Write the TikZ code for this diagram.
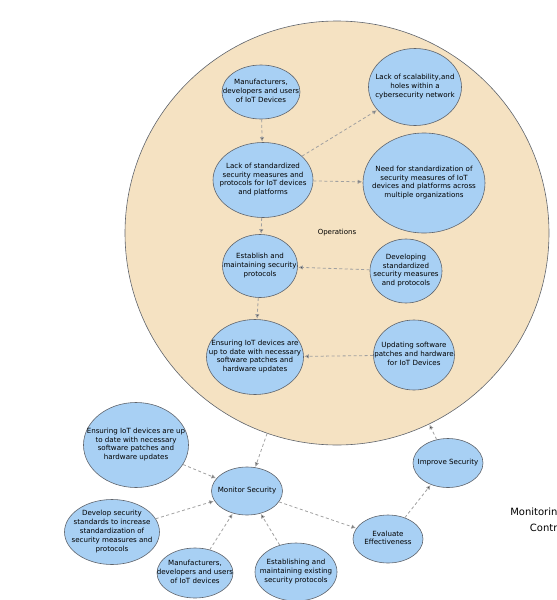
\documentclass[tikz,border=0pt]{standalone}
\usepackage{fontspec}
\setmainfont{DejaVu Sans}
\usetikzlibrary{shapes.geometric,arrows.meta}
\definecolor{opsfill}{RGB}{245,226,194}
\definecolor{bubblefill}{RGB}{168,208,244}
\definecolor{rimgray}{RGB}{95,100,108}
\definecolor{flowgray}{RGB}{160,160,160}
% text may run over the rim, as in the drawing
\newcommand{\bubtext}[1]{\smash{\makebox[0pt]{\raisebox{-1.5pt}{\begin{tabular}{@{}c@{}}#1\end{tabular}}}}}
\tikzset{
  bubble/.style={ellipse,draw=rimgray,line width=0.6pt,fill=bubblefill,inner sep=0pt,
    font=\fontsize{7.1}{8.9}\selectfont},
  flow/.style={draw=flowgray,line width=0.8pt,dash pattern=on 3pt off 2.5pt,
    -{Latex[length=4.5pt,width=4.5pt]},shorten >=0.5pt}
}
\begin{document}
\begin{tikzpicture}
        [x=1pt,y=-1pt]
        \useasboundingbox (0,0) rectangle (557,600);
        % Operations
        \node[circle,draw=rimgray,line width=0.6pt,fill=opsfill,minimum size=424pt,inner sep=0pt,
              font=\fontsize{7}{8.9}\selectfont]  (OPS) at (337,233) {Operations};
        
        \node[bubble,minimum width=78pt,minimum height=54pt]   (M1) at (261,92)   {\bubtext{Manufacturers,\\developers and users\\of IoT Devices}};
        \node[bubble,minimum width=93pt,minimum height=77pt]   (S1) at (415,87)   {\bubtext{Lack of scalability,and\\holes within a\\cybersecurity network}};
        \node[bubble,minimum width=100pt,minimum height=75pt]  (L1) at (263,180)  {\bubtext{Lack of standardized\\security measures and\\protocols for IoT devices\\and platforms}};
        \node[bubble,minimum width=122pt,minimum height=100pt] (N1) at (424,183)  {\bubtext{Need for standardization of\\security measures of IoT\\devices and platforms across\\multiple organizations}};
        \node[bubble,minimum width=75pt,minimum height=63pt]   (E1) at (260,266)  {\bubtext{Establish and\\maintaining security\\protocols}};
        \node[bubble,minimum width=72pt,minimum height=64pt]   (D1) at (406,271)  {\bubtext{Developing\\standardized\\security measures\\and protocols}};
        \node[bubble,minimum width=97pt,minimum height=75pt]   (U1) at (255,357)  {\bubtext{Ensuring IoT devices are\\up to date with necessary\\software patches and\\hardware updates}};
        \node[bubble,minimum width=81pt,minimum height=70pt]   (P1) at (414,355)  {\bubtext{Updating software\\patches and hardware\\for IoT Devices}};
        
        % Monitoring
        \node[bubble,minimum width=105pt,minimum height=85pt]  (U2) at (136,445)  {\bubtext{Ensuring IoT devices are up\\to date with necessary\\software patches and\\hardware updates}};
        \node[bubble,minimum width=71pt,minimum height=48pt]   (MS) at (247,491)  {\bubtext{Monitor Security}};
        \node[bubble,minimum width=95pt,minimum height=65pt]   (D2) at (112,532)  {\bubtext{Develop security\\standards to increase\\standardization of\\security measures and\\protocols}};
        \node[bubble,minimum width=76pt,minimum height=50pt]   (M2) at (195,573)  {\bubtext{Manufacturers,\\developers and users\\of IoT devices}};
        \node[bubble,minimum width=82pt,minimum height=58pt]   (E2) at (296,572)  {\bubtext{Establishing and\\maintaining existing\\security protocols}};
        \node[bubble,minimum width=70pt,minimum height=48pt]   (EV) at (388,539)  {\bubtext{Evaluate\\Effectiveness}};
        \node[bubble,minimum width=70pt,minimum height=49pt]   (IS) at (448,463)  {\bubtext{Improve Security}};
        
        \node[align=center,font=\fontsize{10}{16}\selectfont] (MC) at (548,520) {Monitoring and\\Control};
        
        \draw[flow]
        (M1)    edge    (L1)
        (L1)    edge    (S1)
        (L1)    edge    (N1)
        (L1)    edge    (E1)
        (D1)    edge    (E1)
        (E1)    edge    (U1)
        (P1)    edge    (U1)
        
        % into and out of the loop
        (OPS)   edge    (MS)
        (U2)    edge    (MS)
        (D2)    edge    (MS)
        (M2)    edge    (MS)
        (E2)    edge    (MS)
        (MS)    edge    (EV)
        (EV)    edge    (IS)
        (IS)    edge    (OPS);
    \end{tikzpicture}
\end{document}
